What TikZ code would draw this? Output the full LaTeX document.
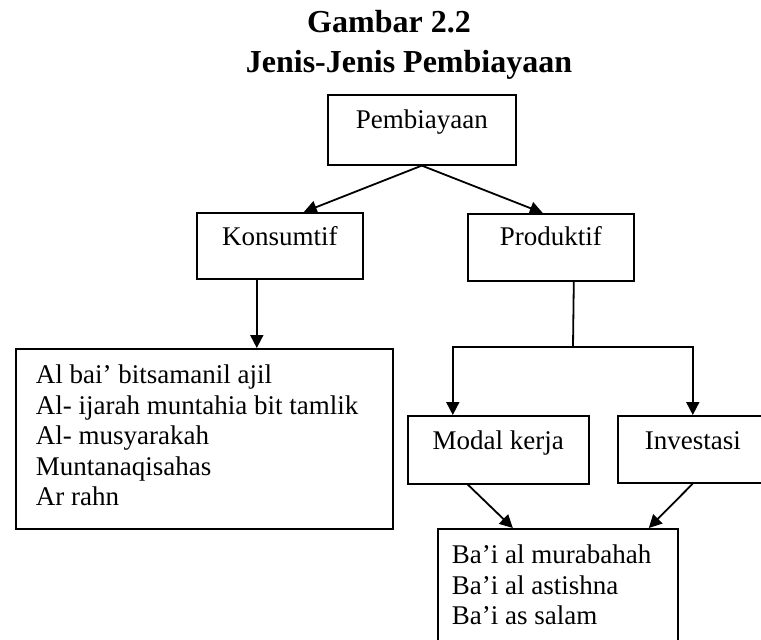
\documentclass[tikz,border=0pt]{standalone}
\usepackage{fontspec}
\setmainfont{Liberation Serif}
\usetikzlibrary{arrows.meta}

\begin{document}
\begin{tikzpicture}[x=0.5pt, y=-0.5pt, >={Triangle[length=6.5pt,width=6.5pt]},
        kotak/.style={draw, line width=0.8pt, anchor=north west, inner xsep=0pt, inner ysep=0pt,
                font=\fontsize{13.5}{15.25}\selectfont},
        daftar/.style={kotak, align=flush left},
        judul/.style={anchor=base, inner sep=0pt, font=\fontsize{16}{18}\selectfont\bfseries},
        panah/.style={->, line width=0.9pt}]

            % Frame (same size as the scanned figure)
            \useasboundingbox (0,0) rectangle (761,639);

            % Title
            \node[judul] (judul1) at (389,32) {Gambar 2.2};
            \node[judul] (judul2) at (409,72) {Jenis-Jenis Pembiayaan};

            % Boxes
            \node[kotak, minimum width=94pt, text height=17pt, text depth=18pt] (pembiayaan) at (327,94) {Pembiayaan};
            \node[kotak, minimum width=83pt, text height=16.5pt, text depth=16.5pt] (konsumtif) at (196,212) {Konsumtif};
            \node[kotak, minimum width=83pt, text height=16pt, text depth=17.5pt] (produktif) at (467,213) {Produktif};
            \node[kotak, minimum width=90.5pt, text height=17pt, text depth=17pt] (modal) at (407,415) {Modal kerja};
            \node[kotak, minimum width=75pt, text height=17pt, text depth=16.5pt] (investasi) at (617,415) {Investasi};

            % Lists
            \node[daftar, inner xsep=10pt, text width=168.5pt, text height=17.5pt, text depth=72.5pt] (akadkonsumtif) at (15,348)
                {Al bai' bitsamanil ajil\\Al- ijarah muntahia bit tamlik\\Al- musyarakah\\Muntanaqisahas\\Ar rahn};
            \node[daftar, inner xsep=7pt, text width=106pt, text height=17.5pt, text depth=50pt] (akadproduktif) at (437,528)
                {Ba'i al murabahah\\Ba'i al astishna\\Ba'i as salam};

            % Connectors
            \draw[panah] (pembiayaan.south) -- ([xshift=12pt]konsumtif.north);
            \draw[panah] (pembiayaan.south) -- ([xshift=-4pt]produktif.north);
            \draw[panah] ([xshift=-11.5pt]konsumtif.south) -- ([xshift=-11.5pt]konsumtif.south |- akadkonsumtif.north);

            \coordinate (cabang) at (573,347);
            \draw[line width=0.9pt] ([xshift=11.5pt]produktif.south) -- (cabang);
            \draw[panah] (cabang) -| ([xshift=-22.75pt]modal.north);
            \draw[panah] (cabang) -| (investasi.north);

            \draw[panah] ([xshift=-15.25pt]modal.south) -- ([xshift=-22.5pt]akadproduktif.north);
            \draw[panah] (investasi.south) -- ([xshift=45.5pt]akadproduktif.north);

\end{tikzpicture}
\end{document}
